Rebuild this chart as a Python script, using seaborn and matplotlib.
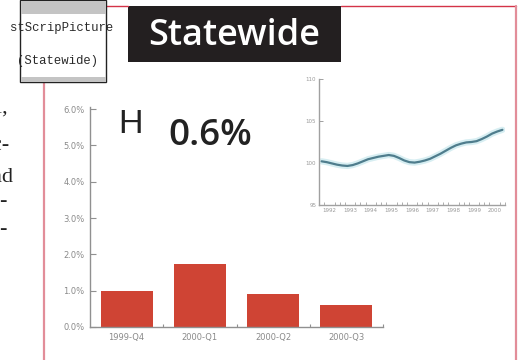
import matplotlib
matplotlib.use("Agg")
import matplotlib.pyplot as plt
from matplotlib.patches import Rectangle
from matplotlib.lines import Line2D
from matplotlib.ticker import FixedLocator, FuncFormatter
import numpy as np
import pandas as pd
import seaborn as sns

# Quarterly job growth (bar panel)
quarters = ["1999-Q4", "2000-Q1", "2000-Q2", "2000-Q3"]
growth_pct = [1.0, 1.73, 0.92, 0.6]
bar_yticks = [0.0, 1.0, 2.0, 3.0, 4.0, 5.0, 6.0]

# Employment index, 1992-Q1 .. 2000-Q4 (line panel)
years = ["1992", "1993", "1994", "1995", "1996", "1997", "1998", "1999", "2000"]
index_values = [
    100.2, 100.1, 99.95, 99.8, 99.7, 99.65, 99.75, 99.95,
    100.2, 100.45, 100.6, 100.75, 100.85, 100.95, 100.85, 100.6,
    100.3, 100.1, 100.05, 100.15, 100.3, 100.5, 100.8, 101.1,
    101.45, 101.8, 102.1, 102.3, 102.45, 102.5, 102.6, 102.85,
    103.15, 103.5, 103.75, 103.95,
]
line_yticks = [95, 100, 105, 110]

headline = "Statewide"
latest_label = "0.6%"
panel_letter = "H"
margin_lines = ["ual,", "ec-", "and", "-", "-"]

W, H = 518, 360
sns.set_theme(style="white")
plt.rcParams["font.family"] = ["DejaVu Sans"]

fig = plt.figure(figsize=(W / 100, H / 100), dpi=100)
fig.patch.set_facecolor("white")


def fx(x):
    return x / W


def fy(y):
    return 1 - y / H


def add_rect(x0, y0, x1, y1, **kw):
    fig.patches.append(Rectangle((fx(x0), fy(y1)), (x1 - x0) / W, (y1 - y0) / H,
                                 transform=fig.transFigure, **kw))


def add_line(xs, ys, **kw):
    fig.lines.append(Line2D([fx(v) for v in xs], [fy(v) for v in ys],
                            transform=fig.transFigure, **kw))


# Page frame
add_line([106, 128], [6, 6], color="#d43348", lw=1.0)
add_line([341, 516], [6, 6], color="#d43348", lw=1.0)
add_line([516, 516], [6, 360], color="#e28d99", lw=1.6)
add_line([44, 44], [82, 360], color="#e28d99", lw=1.6)

# Headline block
add_rect(128, 6, 341, 62, facecolor="#231f20", edgecolor="none")
fig.text(fx(234), fy(45), headline, color="white", fontsize=26,
         fontfamily="Open Sans", fontweight="semibold", ha="center", va="baseline")

# Placeholder box
add_rect(20, 0, 106, 82, facecolor="white", edgecolor="#222222", lw=1.0, zorder=3)
add_rect(20.5, 0.5, 105.5, 14, facecolor="#c4c4c4", edgecolor="none", zorder=4)
add_rect(20.5, 77, 105.5, 81.5, facecolor="#c4c4c4", edgecolor="none", zorder=4)
fig.text(fx(10), fy(31), "stScripPicture", fontsize=8.8, fontfamily="Liberation Mono",
         color="#2a2a2a", ha="left", va="baseline", zorder=5)
fig.text(fx(17), fy(64), "(Statewide)", fontsize=8.8, fontfamily="Liberation Mono",
         color="#2a2a2a", ha="left", va="baseline", zorder=5)

# Cut-off body text at the left margin
for txt, xr, yb in zip(margin_lines, [8, 9, 13, 6, 6], [113, 150, 182, 206, 234]):
    fig.text(fx(xr), fy(yb), txt, fontsize=16, fontfamily="Liberation Serif",
             color="#222222", ha="right", va="baseline")

grey = "#8a8a8a"

# Bar panel
ax = fig.add_axes([fx(90), fy(327), (383 - 90) / W, (327 - 107.2) / H])
bars_df = pd.DataFrame({"quarter": quarters, "growth": growth_pct})
sns.barplot(data=bars_df, x="quarter", y="growth", ax=ax, color="#cf4434",
            saturation=1, width=0.71, edgecolor="none")
ax.set_xlim(-0.5, 3.5)
ax.set_ylim(0, 6.05)
ax.set_xlabel("")
ax.set_ylabel("")
ax.set_facecolor("none")
for s in ["top", "right"]:
    ax.spines[s].set_visible(False)
for s in ["left", "bottom"]:
    ax.spines[s].set_color("#909090")
    ax.spines[s].set_linewidth(1.0)
ax.yaxis.set_major_locator(FixedLocator(bar_yticks))
ax.yaxis.set_major_formatter(FuncFormatter(lambda v, p: f"{v:.1f}%"))
ax.tick_params(axis="y", direction="in", length=4, width=0.8, color="#909090",
               labelsize=6, labelcolor=grey, pad=4, left=True)
ax.tick_params(axis="x", length=0, labelsize=6, labelcolor=grey, pad=4)
ax.xaxis.set_minor_locator(FixedLocator([0.5, 1.5, 2.5, 3.5]))
ax.tick_params(axis="x", which="minor", direction="in", length=2.5, width=0.8,
               color="#909090", bottom=True)

fig.text(fx(118), fy(133), panel_letter, fontsize=24.5, fontfamily="Liberation Sans",
         color="#222222", ha="left", va="baseline")
fig.text(fx(168), fy(145), latest_label, fontsize=26.5, fontfamily="Open Sans",
         fontweight="semibold", color="#222222", ha="left", va="baseline")

# Index line panel
ax2 = fig.add_axes([fx(319), fy(205), (505 - 319) / W, (205 - 79) / H])
qpos = np.arange(len(index_values)) + 0.5
line_df = pd.DataFrame({"q": qpos, "idx": index_values})
sns.lineplot(data=line_df, x="q", y="idx", ax=ax2, color="#d7eef2", lw=4.5)
sns.lineplot(data=line_df, x="q", y="idx", ax=ax2, color="#4f7d8d", lw=1.6)
ax2.set_xlim(0, len(index_values))
ax2.set_ylim(95, 110)
ax2.set_xlabel("")
ax2.set_ylabel("")
ax2.set_facecolor("none")
for s in ["top", "right"]:
    ax2.spines[s].set_visible(False)
for s in ["left", "bottom"]:
    ax2.spines[s].set_color("#a0a0a0")
    ax2.spines[s].set_linewidth(1.0)
ax2.yaxis.set_major_locator(FixedLocator(line_yticks))
ax2.tick_params(axis="y", direction="in", length=3, width=0.7, color="#a0a0a0",
                labelsize=4, labelcolor="#999999", pad=2, left=True)
ax2.xaxis.set_major_locator(FixedLocator([4 * i + 2 for i in range(len(years))]))
ax2.set_xticklabels(years)
ax2.tick_params(axis="x", length=0, labelsize=4, labelcolor="#999999", pad=2)
ax2.xaxis.set_minor_locator(FixedLocator(np.arange(1, len(index_values) + 1)))
ax2.tick_params(axis="x", which="minor", direction="in", length=2, width=0.6,
                color="#a0a0a0", bottom=True)

fig.savefig("out.png", dpi=100, facecolor="white")
